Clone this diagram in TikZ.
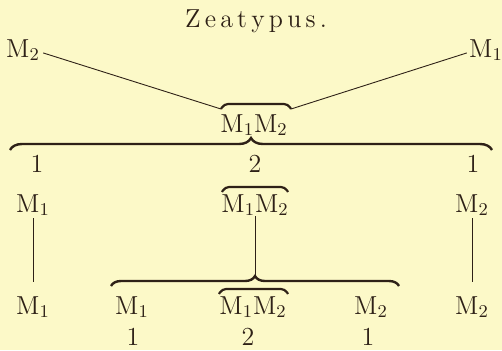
\documentclass[tikz,border=0pt]{standalone}
\usepackage{fontspec}
\usetikzlibrary{positioning,decorations.pathreplacing}
\definecolor{paper}{HTML}{FCF9C8}
\definecolor{ink}{HTML}{2E2117}
% letter-spaced heading
\def\spc#1{\ifx#1\relax\else\kern2.1pt#1\expandafter\spc\fi}

\begin{document}
\begin{tikzpicture}[x=0.5pt, y=-0.5pt,
    font=\fontsize{13}{15}\selectfont,
    lbl/.style={inner sep=0pt, anchor=base, text=ink},
    thin/.style={draw=ink, line width=0.45pt},
    bigbrace/.style={draw=ink, line width=1.2pt, decorate,
                     decoration={brace, amplitude=#1}},
    arcbar/.style={draw=ink, line width=1.1pt, rounded corners=2pt},
  ]
  \fill[paper] (0,0) rectangle (502,350);
  \useasboundingbox (0,0) rectangle (502,350);

  \node[lbl] (title) at (256,27) {Z\spc eatypus.\relax};

  % top: the two parents
  \node[lbl] (topl) at (23,57)  {M$_2$};
  \node[lbl] (topr) at (486,57) {M$_1$};
  \node[lbl] (pairA) at (254,132) {M$_1$M$_2$};
  \coordinate (pairAl) at (221,109);
  \coordinate (pairAr) at (291,109);
  \draw[arcbar] (pairAl) -- (224,104) -- (288,104) -- (pairAr);
  \draw[thin] (topl.east) ++(3,3) -- (pairAl);
  \draw[thin] (topr.west) ++(-2,3) -- (pairAr);

  % first split
  \draw[bigbrace=6pt] (10,150) -- (492,150);
  \node[lbl] (nA) at (37,172)  {1};
  \node[lbl] (nB) at (255,172) {2};
  \node[lbl] (nC) at (473,172) {1};

  \node[lbl] (rowL) at (33,212)  {M$_1$};
  \node[lbl] (pairB) at (255,212) {M$_1$M$_2$};
  \node[lbl] (rowR) at (472,212) {M$_2$};
  \draw[arcbar] (222,192) -- (225,187) -- (285,187) -- (288,192);

  % second split
  \node[lbl] (lowL) at (33,314)  {M$_1$};
  \node[lbl] (lowA) at (132,314) {M$_1$};
  \node[lbl] (pairC) at (253,314) {M$_1$M$_2$};
  \node[lbl] (lowB) at (371,314) {M$_2$};
  \node[lbl] (lowR) at (472,314) {M$_2$};
  \draw[arcbar] (219,294) -- (222,289) -- (285,289) -- (288,294);

  \coordinate (cusp) at (255,276);
  \draw[bigbrace=5pt] (111,286) -- (399,286);
  \draw[thin, shorten <=1pt, shorten >=7pt] (rowL.south) -- (lowL.north);
  \draw[thin, shorten <=1pt, shorten >=7pt] (rowR.south) -- (lowR.north);
  \draw[thin] (pairB.south) -- (cusp);

  \node[lbl] (mA) at (133,345) {1};
  \node[lbl] (mB) at (248,345) {2};
  \node[lbl] (mC) at (368,345) {1};
\end{tikzpicture}
\end{document}
